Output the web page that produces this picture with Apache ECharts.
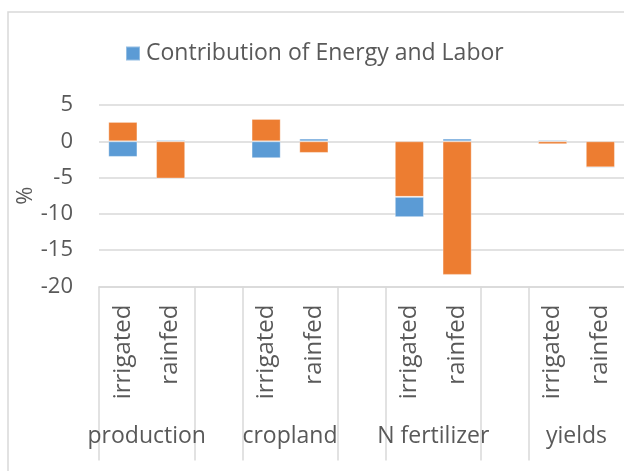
<!DOCTYPE html>
<html>
<head>
<meta charset="utf-8">
<script src="https://cdn.jsdelivr.net/npm/echarts@6/dist/echarts.min.js"></script>
<style>
html,body{margin:0;padding:0;background:#fff;}
#chart{width:624px;height:471px;}
</style>
</head>
<body>
<div id="chart"></div>
<script>
// Inner category level (blank slots separate the groups)
const innerLabels = ['irrigated','rainfed','','irrigated','rainfed','','irrigated','rainfed','','irrigated','rainfed',''];
// Outer category level: group names and the slot position of their centres
const groupNames = ['production','cropland','N fertilizer','yields'];
const groupCenters = [1, 4, 7, 10];
// Series values (%)
const otherValues  = [2.67, -5.13, null, 3.08, -1.6, null, -7.65, -18.4, null, -0.4, -3.58, null];
const energyLabor  = [-2.15, 0.2, null, -2.33, 0.37, null, -2.8, 0.37, null, 0.2, -0.17, null];
const seriesNames = ['Other contributions', 'Contribution of Energy and Labor'];
const yTicks = [-20, -15, -10, -5, 0, 5];

const FONT = '"Open Sans", "Noto Sans", sans-serif';
const TXT = '#595959';
const GRID = '#d9d9d9';

const chart = echarts.init(document.getElementById('chart'), null, {renderer: 'canvas'});
chart.setOption({
  animation: false,
  backgroundColor: '#fff',
  textStyle: {fontFamily: FONT},
  graphic: [{
    type: 'rect', silent: true, z: -1,
    shape: {x: 8, y: 12, width: 700, height: 520},
    style: {fill: 'none', stroke: GRID, lineWidth: 1.5}
  }],
  legend: {
    left: 120, top: 37,
    data: [seriesNames[1]],
    icon: 'rect', itemWidth: 14, itemHeight: 14, itemGap: 8,
    textStyle: {fontFamily: FONT, fontSize: 23, color: TXT, padding: [0,0,0,1]}
  },
  grid: {left: 99, top: 105, width: 573, bottom: 184.5, containLabel: false, outerBoundsMode: 'none'},
  xAxis: [{
    type: 'category',
    data: innerLabels,
    position: 'bottom',
    axisLine: {show: true, onZero: false, lineStyle: {color: GRID, width: 1.5}},
    axisTick: {
      show: true, length: 174, lineStyle: {color: GRID, width: 1.5},
      interval: function (i) { return innerLabels[i] === 'irrigated' || innerLabels[i] === ''; }
    },
    axisLabel: {interval: 0, rotate: 90, margin: 18, fontSize: 24, color: TXT, fontFamily: FONT},
    splitLine: {show: false}
  }, {
    type: 'value',
    position: 'bottom',
    min: 0, max: innerLabels.length, interval: 1,
    axisLine: {show: false}, axisTick: {show: false}, splitLine: {show: false},
    axisLabel: {
      margin: 138, fontSize: 23, color: TXT, fontFamily: FONT, showMinLabel: true, showMaxLabel: true,
      formatter: function (v) { const k = groupCenters.indexOf(v); return k >= 0 ? groupNames[k] : ''; }
    }
  }],
  yAxis: {
    type: 'value',
    min: yTicks[0], max: yTicks[yTicks.length - 1], interval: 5,
    name: '%', nameLocation: 'middle', nameGap: 62, nameRotate: 90, nameMoveOverlap: false,
    nameTextStyle: {fontSize: 22, color: TXT, fontFamily: FONT},
    axisLine: {show: false}, axisTick: {show: false},
    axisLabel: {margin: 26, fontSize: 22, color: TXT, fontFamily: FONT},
    splitLine: {lineStyle: {color: GRID, width: 1.5}}
  },
  series: [{
    name: seriesNames[0], type: 'bar', stack: 's', data: otherValues,
    barWidth: '61%', itemStyle: {color: '#ED7D31', borderColor: 'rgba(255,255,255,0.35)', borderWidth: 1}
  }, {
    name: seriesNames[1], type: 'bar', stack: 's', data: energyLabor,
    barWidth: '61%', itemStyle: {color: '#5B9BD5', borderColor: 'rgba(255,255,255,0.35)', borderWidth: 1}
  }]
});
</script>
</body>
</html>
